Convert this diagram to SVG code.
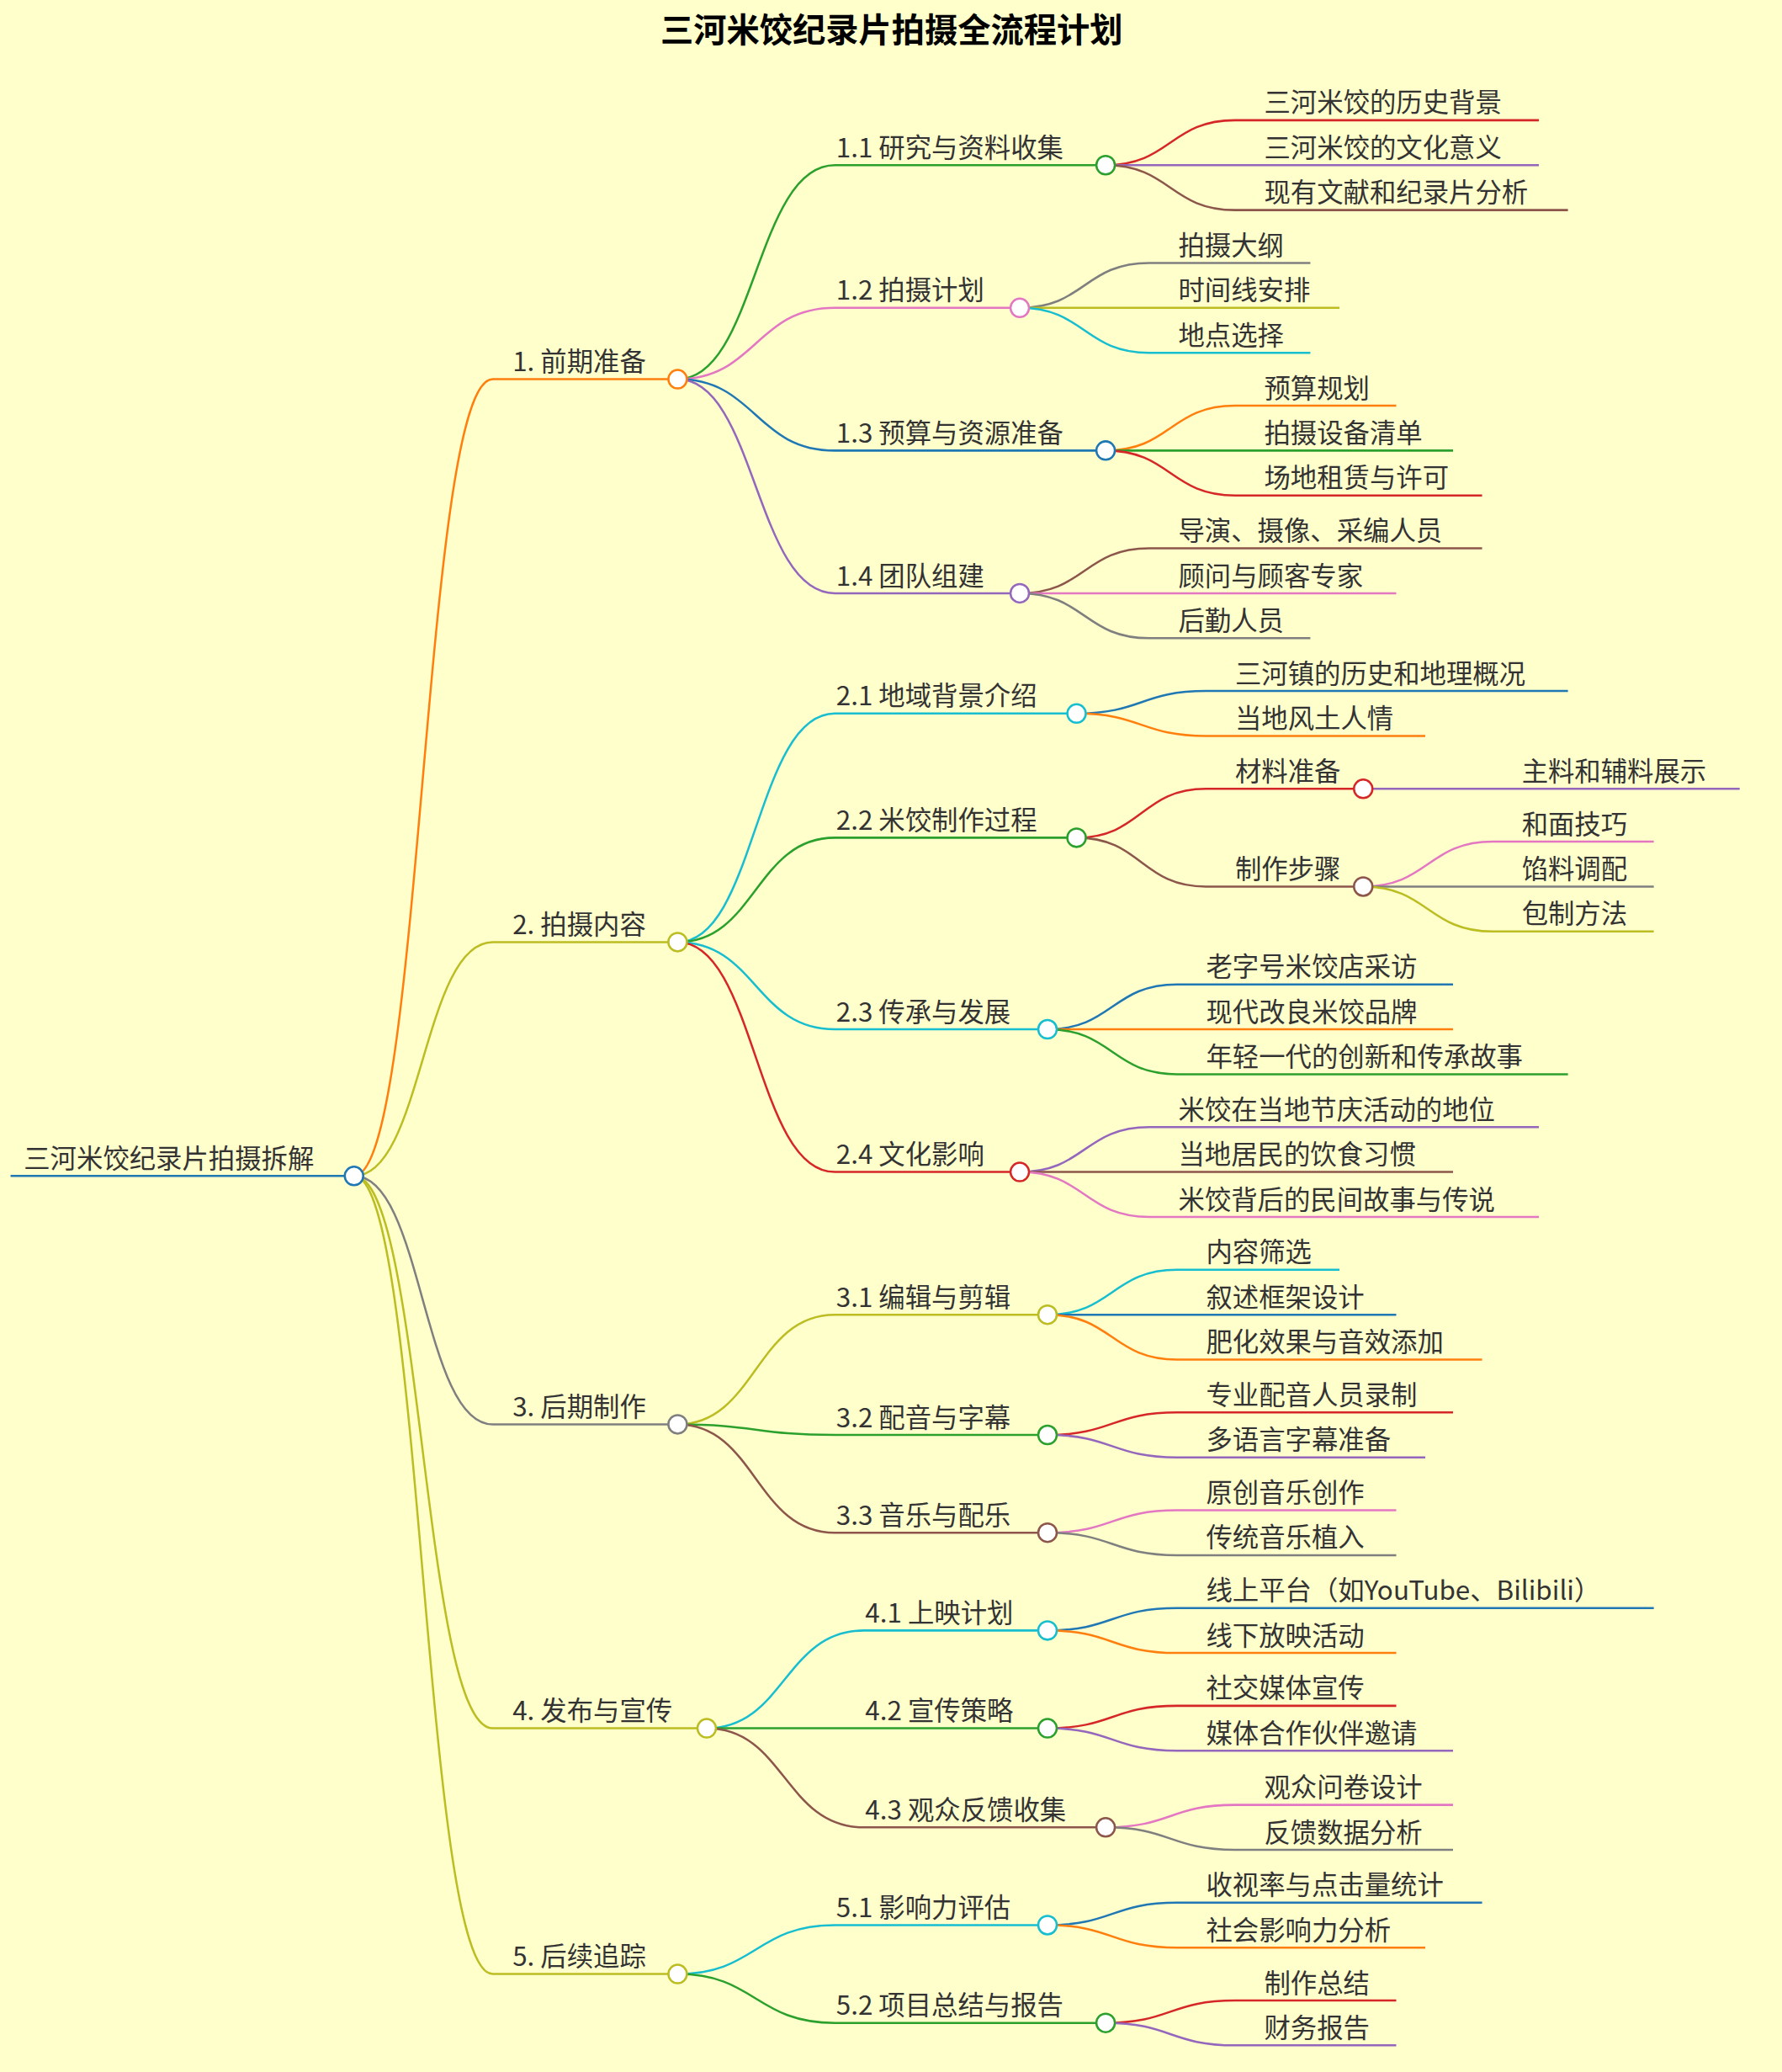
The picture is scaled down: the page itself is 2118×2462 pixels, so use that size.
<svg xmlns="http://www.w3.org/2000/svg" width="2118" height="2462" viewBox="0 0 2118 2462">
<style>
text{font-family:"Noto Sans CJK SC","Noto Sans",sans-serif;fill:#333;font-size:20px}
.t{font-size:25px;font-weight:bold;fill:#000}
path{fill:none;stroke-width:1.6}
circle{fill:#fff;stroke-width:1.6}
</style>
<rect width="2118" height="2462" fill="#ffffcc"/>
<g transform="scale(1.57)">
<text class="t" x="675" y="32" text-anchor="middle">三河米饺纪录片拍摄全流程计划</text>
<g id="connectors">
<path d="M8,890 L262,890" stroke="#1f77b4"/>
<path d="M268,890 C320,890 320,287 373,287 L506,287" stroke="#ff7f0e"/>
<path d="M268,890 C320,890 320,713 373,713 L506,713" stroke="#bcbd22"/>
<path d="M268,890 C320,890 320,1078 373,1078 L506,1078" stroke="#7f7f7f"/>
<path d="M268,890 C320,890 320,1308 373,1308 L528,1308" stroke="#bcbd22"/>
<path d="M268,890 C320,890 320,1494 373,1494 L506,1494" stroke="#bcbd22"/>
<path d="M513,287 C572,287 572,125 632,125 L830,125" stroke="#2ca02c"/>
<path d="M513,287 C572,287 572,233 632,233 L765,233" stroke="#e377c2"/>
<path d="M513,287 C572,287 572,341 632,341 L830,341" stroke="#1f77b4"/>
<path d="M513,287 C572,287 572,449 632,449 L765,449" stroke="#9467bd"/>
<path d="M513,713 C572,713 572,540 632,540 L808,540" stroke="#17becf"/>
<path d="M513,713 C572,713 572,634 632,634 L808,634" stroke="#2ca02c"/>
<path d="M513,713 C572,713 572,779 632,779 L786,779" stroke="#17becf"/>
<path d="M513,713 C572,713 572,887 632,887 L765,887" stroke="#d62728"/>
<path d="M513,1078 C572,1078 572,995 632,995 L786,995" stroke="#bcbd22"/>
<path d="M513,1078 C572,1078 572,1086 632,1086 L786,1086" stroke="#2ca02c"/>
<path d="M513,1078 C572,1078 572,1160 632,1160 L786,1160" stroke="#8c564b"/>
<path d="M535,1308 C594,1308 594,1234 654,1234 L786,1234" stroke="#17becf"/>
<path d="M535,1308 C594,1308 594,1308 654,1308 L786,1308" stroke="#2ca02c"/>
<path d="M535,1308 C594,1308 594,1383 654,1383 L830,1383" stroke="#8c564b"/>
<path d="M513,1494 C572,1494 572,1457 632,1457 L786,1457" stroke="#17becf"/>
<path d="M513,1494 C572,1494 572,1531 632,1531 L830,1531" stroke="#2ca02c"/>
<path d="M837,125 C886,125 886,91 935,91 L1165,91" stroke="#d62728"/>
<path d="M837,125 L1165,125" stroke="#9467bd"/>
<path d="M837,125 C886,125 886,159 935,159 L1187,159" stroke="#8c564b"/>
<path d="M772,233 C821,233 821,199 870,199 L992,199" stroke="#7f7f7f"/>
<path d="M772,233 L1014,233" stroke="#bcbd22"/>
<path d="M772,233 C821,233 821,267 870,267 L992,267" stroke="#17becf"/>
<path d="M837,341 C886,341 886,307 935,307 L1057,307" stroke="#ff7f0e"/>
<path d="M837,341 L1100,341" stroke="#2ca02c"/>
<path d="M837,341 C886,341 886,375 935,375 L1122,375" stroke="#d62728"/>
<path d="M772,449 C821,449 821,415 870,415 L1122,415" stroke="#8c564b"/>
<path d="M772,449 L1057,449" stroke="#e377c2"/>
<path d="M772,449 C821,449 821,483 870,483 L992,483" stroke="#7f7f7f"/>
<path d="M815,540 C864,540 864,523 913,523 L1187,523" stroke="#1f77b4"/>
<path d="M815,540 C864,540 864,557 913,557 L1079,557" stroke="#ff7f0e"/>
<path d="M815,634 C864,634 864,597 913,597 L1025,597" stroke="#d62728"/>
<path d="M815,634 C864,634 864,671 913,671 L1025,671" stroke="#8c564b"/>
<path d="M1032,597 L1317,597" stroke="#9467bd"/>
<path d="M1032,671 C1081,671 1081,637 1130,637 L1252,637" stroke="#e377c2"/>
<path d="M1032,671 L1252,671" stroke="#7f7f7f"/>
<path d="M1032,671 C1081,671 1081,705 1130,705 L1252,705" stroke="#bcbd22"/>
<path d="M793,779 C842,779 842,745 891,745 L1100,745" stroke="#1f77b4"/>
<path d="M793,779 L1100,779" stroke="#ff7f0e"/>
<path d="M793,779 C842,779 842,813 891,813 L1187,813" stroke="#2ca02c"/>
<path d="M772,887 C821,887 821,853 870,853 L1165,853" stroke="#9467bd"/>
<path d="M772,887 L1100,887" stroke="#8c564b"/>
<path d="M772,887 C821,887 821,921 870,921 L1165,921" stroke="#e377c2"/>
<path d="M793,995 C842,995 842,961 891,961 L1014,961" stroke="#17becf"/>
<path d="M793,995 L1057,995" stroke="#1f77b4"/>
<path d="M793,995 C842,995 842,1029 891,1029 L1122,1029" stroke="#ff7f0e"/>
<path d="M793,1086 C842,1086 842,1069 891,1069 L1100,1069" stroke="#d62728"/>
<path d="M793,1086 C842,1086 842,1103 891,1103 L1079,1103" stroke="#9467bd"/>
<path d="M793,1160 C842,1160 842,1143 891,1143 L1057,1143" stroke="#e377c2"/>
<path d="M793,1160 C842,1160 842,1177 891,1177 L1057,1177" stroke="#7f7f7f"/>
<path d="M793,1234 C842,1234 842,1217 891,1217 L1252,1217" stroke="#1f77b4"/>
<path d="M793,1234 C842,1234 842,1251 891,1251 L1057,1251" stroke="#ff7f0e"/>
<path d="M793,1308 C842,1308 842,1291 891,1291 L1057,1291" stroke="#d62728"/>
<path d="M793,1308 C842,1308 842,1325 891,1325 L1100,1325" stroke="#9467bd"/>
<path d="M837,1383 C886,1383 886,1366 935,1366 L1100,1366" stroke="#e377c2"/>
<path d="M837,1383 C886,1383 886,1400 935,1400 L1100,1400" stroke="#7f7f7f"/>
<path d="M793,1457 C842,1457 842,1440 891,1440 L1122,1440" stroke="#1f77b4"/>
<path d="M793,1457 C842,1457 842,1474 891,1474 L1079,1474" stroke="#ff7f0e"/>
<path d="M837,1531 C886,1531 886,1514 935,1514 L1057,1514" stroke="#d62728"/>
<path d="M837,1531 C886,1531 886,1548 935,1548 L1057,1548" stroke="#9467bd"/>
</g>
<g id="root"><text x="18" y="884">三河米饺纪录片拍摄拆解</text><circle cx="268" cy="890" r="7" stroke="#1f77b4"/></g>
<g id="n1"><text x="388" y="281">1. 前期准备</text><circle cx="513" cy="287" r="7" stroke="#ff7f0e"/></g>
<g id="n2"><text x="388" y="707">2. 拍摄内容</text><circle cx="513" cy="713" r="7" stroke="#bcbd22"/></g>
<g id="n3"><text x="388" y="1072">3. 后期制作</text><circle cx="513" cy="1078" r="7" stroke="#7f7f7f"/></g>
<g id="n4"><text x="388" y="1302">4. 发布与宣传</text><circle cx="535" cy="1308" r="7" stroke="#bcbd22"/></g>
<g id="n5"><text x="388" y="1488">5. 后续追踪</text><circle cx="513" cy="1494" r="7" stroke="#bcbd22"/></g>
<g id="n11"><text x="633" y="119">1.1 研究与资料收集</text><circle cx="837" cy="125" r="7" stroke="#2ca02c"/></g>
<g id="n12"><text x="633" y="227">1.2 拍摄计划</text><circle cx="772" cy="233" r="7" stroke="#e377c2"/></g>
<g id="n13"><text x="633" y="335">1.3 预算与资源准备</text><circle cx="837" cy="341" r="7" stroke="#1f77b4"/></g>
<g id="n14"><text x="633" y="443">1.4 团队组建</text><circle cx="772" cy="449" r="7" stroke="#9467bd"/></g>
<g id="n21"><text x="633" y="534">2.1 地域背景介绍</text><circle cx="815" cy="540" r="7" stroke="#17becf"/></g>
<g id="n22"><text x="633" y="628">2.2 米饺制作过程</text><circle cx="815" cy="634" r="7" stroke="#2ca02c"/></g>
<g id="n221"><text x="935" y="591">材料准备</text><circle cx="1032" cy="597" r="7" stroke="#d62728"/></g>
<g id="n222"><text x="935" y="665">制作步骤</text><circle cx="1032" cy="671" r="7" stroke="#8c564b"/></g>
<g id="n23"><text x="633" y="773">2.3 传承与发展</text><circle cx="793" cy="779" r="7" stroke="#17becf"/></g>
<g id="n24"><text x="633" y="881">2.4 文化影响</text><circle cx="772" cy="887" r="7" stroke="#d62728"/></g>
<g id="n31"><text x="633" y="989">3.1 编辑与剪辑</text><circle cx="793" cy="995" r="7" stroke="#bcbd22"/></g>
<g id="n32"><text x="633" y="1080">3.2 配音与字幕</text><circle cx="793" cy="1086" r="7" stroke="#2ca02c"/></g>
<g id="n33"><text x="633" y="1154">3.3 音乐与配乐</text><circle cx="793" cy="1160" r="7" stroke="#8c564b"/></g>
<g id="n41"><text x="655" y="1228">4.1 上映计划</text><circle cx="793" cy="1234" r="7" stroke="#17becf"/></g>
<g id="n42"><text x="655" y="1302">4.2 宣传策略</text><circle cx="793" cy="1308" r="7" stroke="#2ca02c"/></g>
<g id="n43"><text x="655" y="1377">4.3 观众反馈收集</text><circle cx="837" cy="1383" r="7" stroke="#8c564b"/></g>
<g id="n51"><text x="633" y="1451">5.1 影响力评估</text><circle cx="793" cy="1457" r="7" stroke="#17becf"/></g>
<g id="n52"><text x="633" y="1525">5.2 项目总结与报告</text><circle cx="837" cy="1531" r="7" stroke="#2ca02c"/></g>
<g id="leaves">
<text x="957" y="85">三河米饺的历史背景</text>
<text x="957" y="119">三河米饺的文化意义</text>
<text x="957" y="153">现有文献和纪录片分析</text>
<text x="892" y="193">拍摄大纲</text>
<text x="892" y="227">时间线安排</text>
<text x="892" y="261">地点选择</text>
<text x="957" y="301">预算规划</text>
<text x="957" y="335">拍摄设备清单</text>
<text x="957" y="369">场地租赁与许可</text>
<text x="892" y="409">导演、摄像、采编人员</text>
<text x="892" y="443">顾问与顾客专家</text>
<text x="892" y="477">后勤人员</text>
<text x="935" y="517">三河镇的历史和地理概况</text>
<text x="935" y="551">当地风土人情</text>
<text x="1152" y="591">主料和辅料展示</text>
<text x="1152" y="631">和面技巧</text>
<text x="1152" y="665">馅料调配</text>
<text x="1152" y="699">包制方法</text>
<text x="913" y="739">老字号米饺店采访</text>
<text x="913" y="773">现代改良米饺品牌</text>
<text x="913" y="807">年轻一代的创新和传承故事</text>
<text x="892" y="847">米饺在当地节庆活动的地位</text>
<text x="892" y="881">当地居民的饮食习惯</text>
<text x="892" y="915">米饺背后的民间故事与传说</text>
<text x="913" y="955">内容筛选</text>
<text x="913" y="989">叙述框架设计</text>
<text x="913" y="1023">肥化效果与音效添加</text>
<text x="913" y="1063">专业配音人员录制</text>
<text x="913" y="1097">多语言字幕准备</text>
<text x="913" y="1137">原创音乐创作</text>
<text x="913" y="1171">传统音乐植入</text>
<text x="913" y="1211">线上平台（如YouTube、Bilibili）</text>
<text x="913" y="1245">线下放映活动</text>
<text x="913" y="1285">社交媒体宣传</text>
<text x="913" y="1319">媒体合作伙伴邀请</text>
<text x="957" y="1360">观众问卷设计</text>
<text x="957" y="1394">反馈数据分析</text>
<text x="913" y="1434">收视率与点击量统计</text>
<text x="913" y="1468">社会影响力分析</text>
<text x="957" y="1508">制作总结</text>
<text x="957" y="1542">财务报告</text>
</g>
</g>
</svg>
